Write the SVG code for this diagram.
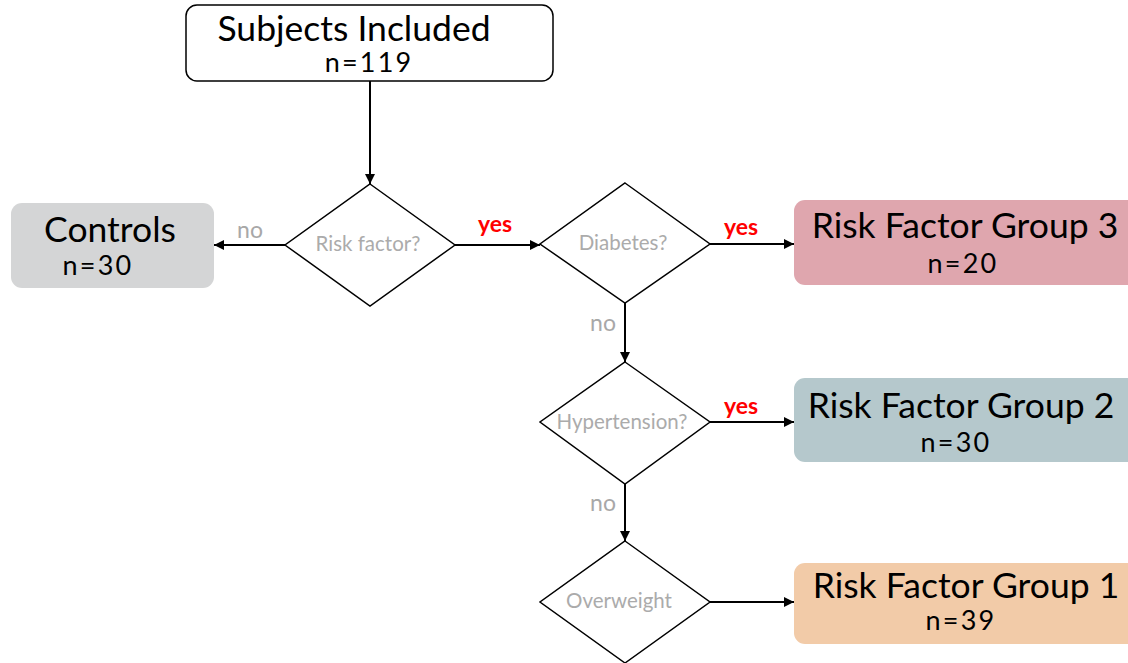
<svg xmlns="http://www.w3.org/2000/svg" width="1128" height="663" viewBox="0 0 1128 663">
<defs>
<marker id="arr" viewBox="0 0 10 10" refX="10" refY="5" markerWidth="10" markerHeight="10" markerUnits="userSpaceOnUse" orient="auto"><path d="M0,0 L10,5 L0,10 z" fill="#000"/></marker>
<style>
.t{font-family:Lato,"Noto Sans",sans-serif;fill:#000;text-anchor:middle}
.big{font-size:35.5px}
.n{font-size:27px;letter-spacing:2.2px}
.q{font-family:Lato,"Noto Sans",sans-serif;fill:#ababab;font-size:20.5px;text-anchor:middle}
.no{font-family:Lato,"Noto Sans",sans-serif;fill:#a8a8a8;font-size:23px;text-anchor:middle}
.yes{font-family:Lato,"Noto Sans",sans-serif;fill:#ff0000;font-size:23px;text-anchor:middle;font-weight:bold}
.d{fill:#fff;stroke:#000;stroke-width:1.5}
.c{stroke:#000;stroke-width:2;fill:none;marker-end:url(#arr)}
</style>
</defs>
<rect width="1128" height="663" fill="#fff"/>
<g id="connectors">
<line class="c" x1="370" y1="81" x2="370" y2="184"/>
<line class="c" x1="285" y1="245" x2="214" y2="245"/>
<line class="c" x1="455" y1="245" x2="540" y2="245"/>
<line class="c" x1="710" y1="244" x2="794" y2="244"/>
<line class="c" x1="625" y1="303" x2="625" y2="362"/>
<line class="c" x1="710" y1="422" x2="794" y2="422"/>
<line class="c" x1="625" y1="484" x2="625" y2="541"/>
<line class="c" x1="710" y1="602" x2="794" y2="602"/>
<text class="no" x="250" y="238">no</text>
<text class="yes" x="495" y="232">yes</text>
<text class="yes" x="741" y="235">yes</text>
<text class="no" x="603" y="331">no</text>
<text class="yes" x="741" y="414">yes</text>
<text class="no" x="603" y="511">no</text>
</g>
<g id="subjects">
<rect x="186" y="5" width="367" height="76" rx="11" fill="#fff" stroke="#000" stroke-width="1.5"/>
<text class="t big" x="354" y="41">Subjects Included</text>
<text class="t n" x="369" y="72">n=119</text>
</g>
<g id="risk-factor">
<polygon class="d" points="370,184 455,245 370,306 285,245"/>
<text class="q" x="368" y="251">Risk factor?</text>
</g>
<g id="controls">
<rect x="11" y="203" width="203" height="85" rx="11" fill="#d4d5d6"/>
<text class="t big" x="110" y="242">Controls</text>
<text class="t n" x="98" y="275">n=30</text>
</g>
<g id="diabetes">
<polygon class="d" points="625,183 710,244 625,303 540,244"/>
<text class="q" x="623" y="250">Diabetes?</text>
</g>
<g id="group3">
<rect x="794" y="200" width="350" height="85" rx="11" fill="#dfa6ae"/>
<text class="t big" x="965" y="238">Risk Factor Group 3</text>
<text class="t n" x="963" y="273">n=20</text>
</g>
<g id="hypertension">
<polygon class="d" points="625,362 710,422 625,484 540,422"/>
<text class="q" x="622" y="429">Hypertension?</text>
</g>
<g id="group2">
<rect x="794" y="378" width="350" height="84" rx="11" fill="#b5c8cc"/>
<text class="t big" x="961" y="418">Risk Factor Group 2</text>
<text class="t n" x="956" y="452">n=30</text>
</g>
<g id="overweight">
<polygon class="d" points="625,541 710,602 625,663 540,602"/>
<text class="q" x="619" y="608">Overweight</text>
</g>
<g id="group1">
<rect x="794" y="563" width="350" height="81" rx="11" fill="#f2cba8"/>
<text class="t big" x="966" y="598">Risk Factor Group 1</text>
<text class="t n" x="961" y="630">n=39</text>
</g>
</svg>
